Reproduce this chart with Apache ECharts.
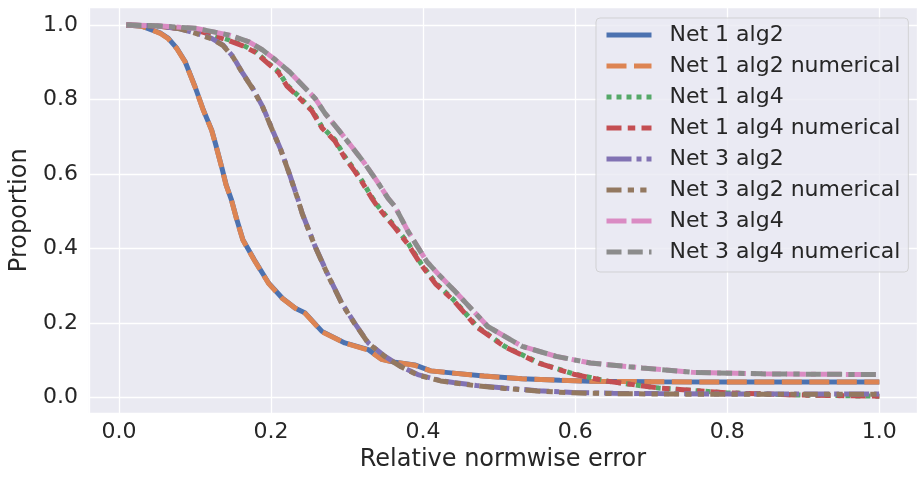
<!DOCTYPE html>
<html>
<head>
<meta charset="utf-8">
<title>Relative normwise error</title>
<script src="https://cdn.jsdelivr.net/npm/echarts@6.0.0/dist/echarts.min.js"></script>
<style>
    html, body { margin: 0; padding: 0; background: #fff; }
    #main { width: 924px; height: 479px; }
</style>
</head>
<body>
<div id="main"></div>
<script>
// 数据: 每条曲线的x坐标和比例
let xNet1Alg2 = [0.01, 0.03, 0.043, 0.055, 0.065, 0.076, 0.087, 0.100, 0.111, 0.122, 0.128, 0.135, 0.141, 0.148, 0.155, 0.163, 0.178, 0.197, 0.215, 0.232, 0.245, 0.267, 0.297, 0.328, 0.345, 0.363, 0.389, 0.410, 0.440, 0.480, 0.530, 0.580, 0.620, 0.700, 0.800, 0.900, 1.0];
let yNet1Alg2 = [1.0, 0.997, 0.987, 0.978, 0.964, 0.938, 0.902, 0.835, 0.772, 0.718, 0.674, 0.620, 0.571, 0.531, 0.478, 0.424, 0.370, 0.307, 0.267, 0.240, 0.227, 0.178, 0.147, 0.129, 0.104, 0.095, 0.088, 0.072, 0.066, 0.058, 0.051, 0.047, 0.044, 0.043, 0.042, 0.042, 0.042];
let yNet1Alg2Num = [1.0, 0.997, 0.987, 0.977, 0.963, 0.937, 0.901, 0.834, 0.771, 0.717, 0.673, 0.619, 0.570, 0.530, 0.477, 0.423, 0.369, 0.306, 0.266, 0.240, 0.226, 0.177, 0.147, 0.128, 0.103, 0.095, 0.087, 0.072, 0.066, 0.058, 0.051, 0.047, 0.044, 0.043, 0.042, 0.042, 0.042];

let xNet1Alg4 = [0.01, 0.05, 0.102, 0.145, 0.163, 0.180, 0.197, 0.210, 0.221, 0.237, 0.254, 0.267, 0.284, 0.297, 0.310, 0.319, 0.332, 0.341, 0.363, 0.380, 0.397, 0.417, 0.440, 0.471, 0.507, 0.553, 0.598, 0.643, 0.710, 0.800, 0.900, 1.0];
let yNet1Alg4 = [1.0, 0.997, 0.987, 0.960, 0.946, 0.928, 0.897, 0.875, 0.839, 0.808, 0.772, 0.727, 0.692, 0.647, 0.611, 0.584, 0.540, 0.513, 0.459, 0.415, 0.361, 0.307, 0.263, 0.191, 0.138, 0.093, 0.064, 0.044, 0.026, 0.013, 0.007, 0.004];
let yNet1Alg4Num = [1.0, 0.997, 0.986, 0.958, 0.944, 0.926, 0.895, 0.872, 0.836, 0.805, 0.769, 0.724, 0.689, 0.644, 0.608, 0.581, 0.537, 0.510, 0.456, 0.412, 0.358, 0.304, 0.261, 0.189, 0.137, 0.092, 0.063, 0.044, 0.026, 0.013, 0.007, 0.004];

let xNet3Alg2 = [0.01, 0.05, 0.08, 0.102, 0.122, 0.137, 0.150, 0.163, 0.176, 0.189, 0.202, 0.213, 0.224, 0.235, 0.241, 0.258, 0.276, 0.293, 0.310, 0.328, 0.350, 0.371, 0.393, 0.423, 0.440, 0.470, 0.507, 0.550, 0.597, 0.650, 0.710, 0.800, 0.900, 1.0];
let yNet3Alg2 = [1.0, 0.998, 0.990, 0.978, 0.964, 0.946, 0.915, 0.870, 0.830, 0.781, 0.718, 0.665, 0.602, 0.535, 0.495, 0.406, 0.325, 0.254, 0.200, 0.147, 0.111, 0.084, 0.062, 0.046, 0.041, 0.033, 0.026, 0.019, 0.014, 0.012, 0.011, 0.010, 0.010, 0.010];
let yNet3Alg2Num = [1.0, 0.998, 0.990, 0.977, 0.963, 0.945, 0.914, 0.869, 0.829, 0.780, 0.717, 0.664, 0.601, 0.534, 0.494, 0.405, 0.324, 0.253, 0.199, 0.146, 0.110, 0.083, 0.061, 0.045, 0.040, 0.032, 0.025, 0.018, 0.013, 0.011, 0.010, 0.009, 0.009, 0.009];

let xNet3Alg4 = [0.01, 0.05, 0.102, 0.145, 0.171, 0.189, 0.206, 0.224, 0.241, 0.258, 0.271, 0.289, 0.306, 0.323, 0.341, 0.354, 0.363, 0.380, 0.405, 0.423, 0.440, 0.485, 0.530, 0.575, 0.620, 0.688, 0.755, 0.846, 1.0];
let yNet3Alg4 = [1.0, 0.998, 0.991, 0.973, 0.955, 0.933, 0.906, 0.875, 0.839, 0.803, 0.763, 0.718, 0.674, 0.629, 0.576, 0.535, 0.513, 0.447, 0.365, 0.325, 0.290, 0.191, 0.138, 0.111, 0.093, 0.080, 0.068, 0.064, 0.062];
let yNet3Alg4Num = [1.0, 0.998, 0.991, 0.973, 0.955, 0.933, 0.906, 0.875, 0.839, 0.803, 0.763, 0.718, 0.674, 0.629, 0.576, 0.535, 0.513, 0.447, 0.365, 0.325, 0.290, 0.191, 0.138, 0.111, 0.093, 0.080, 0.068, 0.064, 0.062];

let seriesNames = ['Net 1 alg2', 'Net 1 alg2 numerical', 'Net 1 alg4', 'Net 1 alg4 numerical',
                   'Net 3 alg2', 'Net 3 alg2 numerical', 'Net 3 alg4', 'Net 3 alg4 numerical'];
let tickLabels = ['0.0', '0.2', '0.4', '0.6', '0.8', '1.0'];

// 颜色和虚线样式 (seaborn deep)
let colors = ['#4C72B0', '#DD8452', '#55A868', '#C44E52', '#8172B3', '#937860', '#DA8BC3', '#8C8C8C'];
let dashes = ['solid', [20, 7.5], [5, 5], [15, 6.25, 7.5, 6.25], [25, 5, 5, 5],
              [15, 6.25, 6.25, 6.25, 6.25, 6.25], [20, 5, 20, 5, 5, 5], [15, 6.25, 15, 6.25, 6.25, 6.25]];

let xs = [xNet1Alg2, xNet1Alg2, xNet1Alg4, xNet1Alg4, xNet3Alg2, xNet3Alg2, xNet3Alg4, xNet3Alg4];
let ys = [yNet1Alg2, yNet1Alg2Num, yNet1Alg4, yNet1Alg4Num, yNet3Alg2, yNet3Alg2Num, yNet3Alg4, yNet3Alg4Num];

function pairUp(x, y) {
    return x.map((v, i) => [v, y[i]]);
}

let series = seriesNames.map((name, i) => ({
    name: name,
    type: 'line',
    data: pairUp(xs[i], ys[i]),
    showSymbol: false,
    symbol: 'none',
    smooth: false,
    lineStyle: { width: 5, color: colors[i], type: dashes[i], cap: 'butt' },
    itemStyle: { color: colors[i] },
    emphasis: { disabled: true }
}));

function tickText(v) {
    let hit = tickLabels.find(t => Math.abs(parseFloat(t) - v) < 1e-6);
    return hit || '';
}

let font = 'DejaVu Sans';
let myChart = echarts.init(document.getElementById('main'));
let option = {
    animation: false,
    backgroundColor: '#ffffff',
    textStyle: { fontFamily: font },
    grid: {
        left: 81, right: 7, top: 7.5, bottom: 66,
        show: true, backgroundColor: '#EAEAF2', borderWidth: 0
    },
    legend: {
        orient: 'vertical',
        left: 596, top: 18,
        padding: [6, 8, 9, 8],
        itemWidth: 45, itemHeight: 14, itemGap: 9,
        backgroundColor: 'rgba(234,234,242,0.8)',
        borderColor: 'rgba(204,204,204,0.8)',
        borderWidth: 1, borderRadius: 4,
        // 图例只画线, 不画圆点
        itemStyle: { opacity: 0 },
        lineStyle: { width: 5 },
        textStyle: { fontFamily: font, fontSize: 22, color: '#262626', padding: [0, 0, 0, 13] },
        data: seriesNames
    },
    xAxis: {
        type: 'value',
        min: -0.0395, max: 1.0495, splitNumber: 5,
        name: 'Relative normwise error',
        nameLocation: 'middle', nameGap: 31,
        nameTextStyle: { fontFamily: font, fontSize: 24, color: '#262626' },
        axisLine: { show: false }, axisTick: { show: false },
        axisLabel: { fontFamily: font, fontSize: 22, color: '#262626', margin: 8, formatter: tickText, showMinLabel: false, showMaxLabel: false },
        splitLine: { show: true, lineStyle: { color: '#ffffff', width: 1.3 } }
    },
    yAxis: {
        type: 'value',
        min: -0.041, max: 1.047, splitNumber: 5,
        name: 'Proportion',
        nameLocation: 'middle', nameGap: 51,
        nameTextStyle: { fontFamily: font, fontSize: 24, color: '#262626' },
        axisLine: { show: false }, axisTick: { show: false },
        axisLabel: { fontFamily: font, fontSize: 22, color: '#262626', margin: 11, formatter: tickText, showMinLabel: false, showMaxLabel: false },
        splitLine: { show: true, lineStyle: { color: '#ffffff', width: 1.3 } }
    },
    series: series
};
myChart.setOption(option);
</script>
</body>
</html>
